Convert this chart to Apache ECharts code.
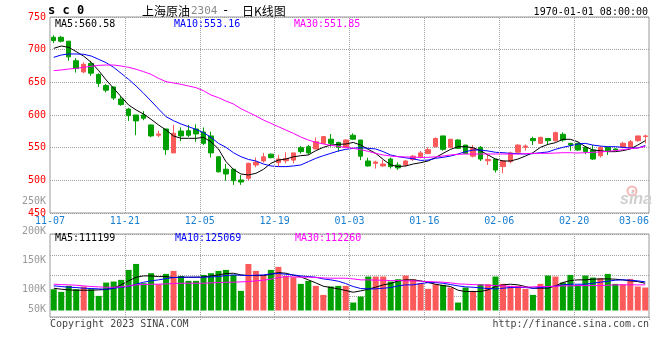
<!DOCTYPE html>
<html><head><meta charset="utf-8">
<script src="https://cdn.jsdelivr.net/npm/echarts@6/dist/echarts.min.js"></script>
<style>html,body{margin:0;padding:0;background:#fff}#c{width:660px;height:360px}</style>
</head><body><div id="c"></div>
<script>
const dates = ['11-07','11-08','11-09','11-10','11-11','11-14','11-15','11-16','11-17','11-18','11-21','11-22','11-23','11-24','11-25','11-28','11-29','11-30','12-01','12-02','12-05','12-06','12-07','12-08','12-09','12-12','12-13','12-14','12-15','12-16','12-19','12-20','12-21','12-22','12-23','12-26','12-27','12-28','12-29','12-30','01-03','01-04','01-05','01-06','01-09','01-10','01-11','01-12','01-13','01-16','01-17','01-18','01-19','01-20','01-30','01-31','02-01','02-02','02-03','02-06','02-07','02-08','02-09','02-10','02-13','02-14','02-15','02-16','02-17','02-20','02-21','02-22','02-23','02-24','02-27','02-28','03-01','03-02','03-03','03-06'];
const openP = [719,719,713,683,666,679,662,645,643,624.5, 609,600,600,584.7,569,578.6,542,575.5,576,578.6, 574,568,536,517,517,500.5,503,523.5,529.6,540, 527,530,531,550,551.5,548,556.6,563,558,550.5, 569,561.7,529.6,526,522,532.6,523.5,523.5,532,536, 541,551.5,568,550.5,561.7,554,537,550.5,530,532.6, 521,528.6,543,550.5,564,556.6,564,560.7,570.4,556.6, 556.6,550.5,546.4,537.7,550.5,548,550.5,550.5,560.7,567];
const closeP = [714,713,689,671,677.5,664,648.5,638,626,616, 599,591,595,568,571,547,572,568,569,571, 556.6,542,513,509.7,499.5,497.4,526,528,536,534.7, 532.6,533.6,542,544,542,559,567,556.6,550.5,561.7, 563,537,522,528,525,521,519,529.6,537,542, 547,564,547.4,563,549,541,549,532.6,532,515.8, 529.6,542,554,552.5,560.7,565.8,560.7,573,561.7,554, 546.4,544,532.6,550.5,545,546.4,556.6,559,568,568];
const highP = [722,721,713,687,680.6,683,664,647.5,643,629, 611,600,606,586,576,578.6,585,581,584.7,585.7, 581,574.5,537,525,517,508,527,535,542,541, 538.8,543,542,552.5,554,565.8,568,571,559,563, 572,561.7,534.7,530,531,534.7,527.6,531,538.8,545, 550.5,565.8,568,563,563,554,554,552.5,538.8,532.6, 531,544,555,555,566.8,566.8,564,574.5,573.5,556.6, 557.6,552.5,554,552.5,551.5,549,559,561.7,568,570];
const lowP = [710,711,683,665,664,660,643,634.7,623,614, 591,569,592,566,566,539,542,560,566,559, 554,535,512,499.5,493,493,499.5,520,527,533.7, 521,526,526,541,539,548,555.6,551.5,544,549, 561.7,531,521,518,521,518,516,521,529.6,533.7, 540,550.5,545.4,549,548,540,535,529.6,523.5,512, 510.7,526,542,545.4,554,555.6,554,559,559,545.4, 545.4,540,531,535,538.8,545,549,549,559,556.6];
const ma5 = [702,705.6,703.6,697,690,680.6,668,653.6,640.8,628, 615.3,607.7,601.5,593.4,584.7,577,567.9,564.3,564.3,564.3, 565.8,559,548,528.6,516.8,509.7,508.2,510.7,516.8,526, 531,532.6,536,537.7,538.8,545.4,550.5,554,555,555.6, 558,554,547.4,541.3,532,523.5,521,522,525,527, 529.6,535,541.3,547.4,551.5,551.5,550,545.4,538.8,532.6, 529.6,529.6,532.6,537.2,542.3,550.5,555,557.6,562.8,562.8, 559,551.5,546.4,545.4,543.9,543.9,545.4,548,554,560.6];
const ma10 = [688.3,691.8,693.4,693.4,692.9,690.3,685.2,680.1,673,663.8, 654.6,644.4,633.2,621.4,609.2,597.4,591.3,586.2,582.1,578, 573,565.8,556.6,550.5,542.3,536.2,532,529.6,525,522, 521,521,522,523.5,528.6,533.7,537.7,541.3,544.9,547.4, 549,550,549,548,543.9,538.8,536.2,534.5,533,530.5, 531,533.7,535.2,537.2,540.3,543.9,546.4,546.4,544.9,542.9, 542.3,541.3,540.8,540.3,540.8,542.3,543.4,547.4,550.5,553, 555.6,556.6,554,552.5,551.5,551.5,550.5,549.5,549.5,553.2];
const ma30 = [667.9,668.9,670.4,671.4,673,674.5,676,676.5,676.5,675, 673,670,666.3,662.2,656.1,651,649,646.9,644.4,641.8, 637.2,630.6,626.5,621.4,616.8,609.7,604.1,598.5,592.3,587.2, 582.1,577,571.9,566.3,561.7,558.2,555.6,553.6,552,550.5, 549,546.9,544.4,541.3,538.8,537.2,536.2,535.8,535.4,535, 535.2,536,537.2,538.8,539.8,540.3,540.3,540.3,540.3,540.3, 540.3,540.3,540.3,540.8,541.3,541.3,541.3,541.8,542.3,542.3, 541.8,542.3,542.9,543.4,544.4,545.4,546.9,548.5,549.5,551.85];
const volume = [101100,96600,106800,101100,105700,101100,89800,112400,114100,117000, 133900,144000,111300,128300,109600,127100,132200,123700,115300,115300, 125400,128300,132200,133900,125400,98300,144000,132200,124300,133900, 139000,123700,121500,110200,115300,106800,91500,105700,106800,106800, 78500,88700,122600,122600,122600,114100,118100,124300,118100,111300, 101700,109600,108500,104000,78500,104000,98300,109600,109600,122600, 110200,106800,106800,101700,91500,110200,124300,122600,112400,125400, 108500,124300,120900,119800,127100,110200,109600,118600,105700,104000];
const volMa5 = [102800,101100,100000,99400,99400,99400,100000,100600,102800,108500, 115300,121500,123700,123700,122600,122600,120900,121500,121500,121500, 122000,123700,125400,127700,128300,125400,124300,124300,124300,126500, 129400,128300,124900,122000,117000,111900,106200,104000,101700,98900, 96000,98300,101100,104500,108500,110700,115300,117000,117000,115300, 112400,109600,107300,105700,99400,97200,97200,97200,100000,105700, 108500,109600,108500,105700,102800,102800,102800,106800,112400,115800, 117000,117000,118100,118600,118600,118100,117000,115300,114100,111199];
const volMa10 = [106800,105700,104500,104000,102800,102300,101700,101100,102800,104500, 105700,109600,113000,115300,117000,119200,120900,121500,121500,121500, 121500,122000,122600,124300,125400,124900,124300,124900,125400,127100, 127700,126500,125400,123700,122600,121500,118600,117000,114700,110700, 105700,102300,101700,101700,102800,104000,106800,108500,108500,110700, 112400,112400,111300,109000,106800,105100,104500,103400,102300,101700, 102800,104000,104000,104000,102800,104000,105100,106200,108500,109600, 109600,109600,111300,113000,114700,116400,117000,116400,115300,113600];
const volMa30 = [109600,109000,108500,107900,106800,105700,105100,104500,104500,105100, 106800,108500,109000,109600,109600,110200,110700,111300,111300,111300, 111300,111900,112400,113000,113000,113600,114100,115300,116400,118100, 120900,122600,122000,121500,121500,120900,120300,119800,119800,119800, 118600,117000,117000,116400,116400,115800,115800,115300,115300,114700, 114100,113600,113000,111900,110200,109600,109000,108500,107900,107300, 106800,105700,105100,104500,105100,105700,105700,106200,106800,106800, 107300,107300,107300,107300,107900,108500,108500,108500,108500,108500];
const xTickLabels = ['11-07','11-21','12-05','12-19','01-03','01-16','02-06','02-20','03-06'];
const volTickValues = [100000,150000,200000,250000];
const volLowTickLabel = '50K';
const priceLegend = ['MA5:560.58','MA10:553.16','MA30:551.85'];
const volLegend = ['MA5:111199','MA10:125069','MA30:112260'];

const UP = '#fa5a5a', DOWN = '#00a000';
const MONO = '"DejaVu Sans Mono", monospace';
const CJK = '"Noto Sans CJK SC", sans-serif';
const GRIDC = '#a0a0a0', BORDER = '#999999';
const DASH = [1, 1];

const kData = dates.map((d, i) => [openP[i], closeP[i], lowP[i], highP[i]]);
const volData = volume.map((v, i) => ({value: v, itemStyle: {color: closeP[i] >= openP[i] ? UP : DOWN}}));
// vertical grid positions: inner ticks of the evenly divided time axis
const vLines = xTickLabels.slice(1, -1).map((t, k) => ({xAxis: k + 1}));

const chart = echarts.init(document.getElementById('c'), null, {renderer: 'canvas'});
function dotted() { return {show: true, lineStyle: {type: DASH, color: GRIDC, width: 1}}; }
const none = {show: false};
function vGrid(xi, yi) {
  return {type: 'line', xAxisIndex: xi, yAxisIndex: yi, data: [], silent: true, z: 1,
    markLine: {silent: true, symbol: ['none', 'none'], animation: false, label: {show: false},
               lineStyle: {type: DASH, color: GRIDC, width: 1}, emphasis: {disabled: true}, data: vLines}};
}

function txt(x, y, text, fill, font, align) {
  return {type: 'text', x: x, y: y, silent: true, z: 50,
    style: {text: text, fill: fill, font: font, align: align || 'left', verticalAlign: 'middle',
            textAlign: align || 'left', textVerticalAlign: 'middle'}};
}

chart.setOption({
  animation: false,
  backgroundColor: '#ffffff',
  grid: [
    {left: 50, top: 17, width: 599, height: 196, show: true, borderColor: BORDER, borderWidth: 1, backgroundColor: 'transparent', outerBoundsMode: 'none', containLabel: false},
    {left: 50, top: 234, width: 599, height: 83, show: true, borderColor: BORDER, borderWidth: 1, backgroundColor: 'transparent', outerBoundsMode: 'none', containLabel: false},
    {left: 50, top: 201.5, width: 599, height: 109, show: false, outerBoundsMode: 'none', containLabel: false}
  ],
  xAxis: [
    {type: 'category', gridIndex: 0, position: 'top', data: dates, boundaryGap: true, axisLine: none, axisTick: none, axisLabel: none, splitLine: none},
    {type: 'value', gridIndex: 0, position: 'bottom', min: 0, max: 8, interval: 1, axisLine: none, axisTick: none, splitLine: none,
     axisLabel: {show: true, margin: 3, color: '#1a7fd0', fontFamily: MONO, fontSize: 10, alignMaxLabel: 'right',
                 formatter: v => xTickLabels[Math.round(v)] || ''}},
    {type: 'value', gridIndex: 1, position: 'bottom', min: 0, max: 8, interval: 1, axisLine: none, axisLabel: none, splitLine: none,
     axisTick: {show: true, length: 4, inside: false, lineStyle: {type: DASH, color: GRIDC}}},
    {type: 'category', gridIndex: 2, position: 'bottom', data: dates, boundaryGap: true, axisLine: none, axisTick: none, axisLabel: none, splitLine: none}
  ],
  yAxis: [
    {type: 'value', gridIndex: 0, min: 450, max: 750, interval: 50, axisLine: none, axisTick: none, splitLine: dotted(),
     axisLabel: {color: '#ff0000', fontFamily: MONO, fontSize: 10, margin: 4}},
    {type: 'value', gridIndex: 1, min: 0, max: 4, interval: 1, axisLine: none, axisTick: none, axisLabel: none, splitLine: dotted()},
    {type: 'value', gridIndex: 2, min: 65000, max: 250000, axisLine: none, axisTick: none, splitLine: none,
     axisLabel: {color: '#999999', fontFamily: MONO, fontSize: 10, margin: 4, customValues: volTickValues,
                 formatter: v => Math.round(v / 1000) + 'K'}}
  ],
  series: [
    vGrid(1, 0),
    vGrid(2, 1),
    {type: 'candlestick', xAxisIndex: 0, yAxisIndex: 0, data: kData, barWidth: 5,
     itemStyle: {color: UP, color0: DOWN, borderColor: UP, borderColor0: DOWN, borderWidth: 1}, z: 3},
    {type: 'line', xAxisIndex: 0, yAxisIndex: 0, data: ma5, symbol: 'none', lineStyle: {color: '#000000', width: 1}, z: 4},
    {type: 'line', xAxisIndex: 0, yAxisIndex: 0, data: ma10, symbol: 'none', lineStyle: {color: '#0000ff', width: 1}, z: 4},
    {type: 'line', xAxisIndex: 0, yAxisIndex: 0, data: ma30, symbol: 'none', lineStyle: {color: '#ff00ff', width: 1}, z: 4},
    {type: 'bar', xAxisIndex: 3, yAxisIndex: 2, data: volData, barWidth: 6, z: 3},
    {type: 'line', xAxisIndex: 3, yAxisIndex: 2, data: volMa5, symbol: 'none', lineStyle: {color: '#000000', width: 1}, z: 4},
    {type: 'line', xAxisIndex: 3, yAxisIndex: 2, data: volMa10, symbol: 'none', lineStyle: {color: '#0000ff', width: 1}, z: 4},
    {type: 'line', xAxisIndex: 3, yAxisIndex: 2, data: volMa30, symbol: 'none', lineStyle: {color: '#ff00ff', width: 1}, z: 4}
  ],
  graphic: [
    {type: 'circle', silent: true, z: 1, shape: {cx: 632, cy: 191, r: 4.5}, style: {fill: 'none', stroke: '#f3b8b8', lineWidth: 2}},
    {type: 'circle', silent: true, z: 1, shape: {cx: 633, cy: 191, r: 1.5}, style: {fill: '#f3b8b8'}},
    {type: 'text', x: 620, y: 200, silent: true, z: 1,
     style: {text: 'sina', fill: '#cfcfcf', font: 'italic bold 16px "Liberation Sans", sans-serif', align: 'left', verticalAlign: 'middle', textAlign: 'left', textVerticalAlign: 'middle'}},
    txt(48, 11, 's c 0', '#000000', 'bold 12px ' + MONO),
    txt(142, 11, '上海原油', '#000000', '12px ' + CJK),
    txt(191, 11, '2304', '#888888', '11px ' + MONO),
    txt(222, 11, '-', '#000000', '12px ' + MONO),
    txt(242, 11, '日K线图', '#000000', '12px ' + CJK),
    txt(648, 12, '1970-01-01 08:00:00', '#000000', '10px ' + MONO, 'right'),
    txt(55, 24, priceLegend[0], '#000000', '10px ' + MONO),
    txt(174, 24, priceLegend[1], '#0000ff', '10px ' + MONO),
    txt(294, 24, priceLegend[2], '#ff00ff', '10px ' + MONO),
    txt(55, 238.5, volLegend[0], '#000000', '10px ' + MONO),
    txt(175, 238.5, volLegend[1], '#0000ff', '10px ' + MONO),
    txt(295, 238.5, volLegend[2], '#ff00ff', '10px ' + MONO),
    txt(46, 309, volLowTickLabel, '#999999', '10px ' + MONO, 'right'),
    txt(50, 324, 'Copyright 2023 SINA.COM', '#444444', '10px ' + MONO),
    txt(649, 324, 'http://finance.sina.com.cn', '#444444', '10px ' + MONO, 'right')
  ]
});
</script>
</body></html>
